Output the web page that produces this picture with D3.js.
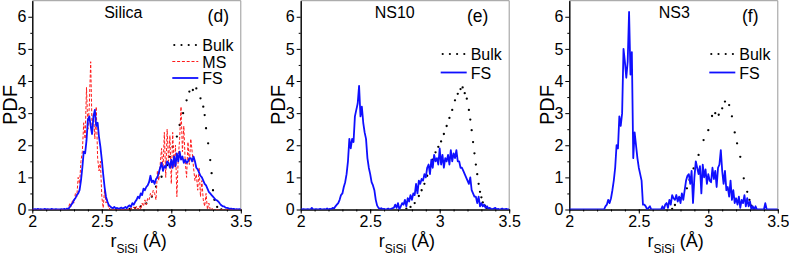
<!DOCTYPE html>
<meta charset="utf-8">
<style>
  body { margin: 0; background: #fff; }
  svg text { font-family: "Liberation Sans", Arial, sans-serif; fill: #000; }
  .frame { stroke: #999; stroke-width: 1; fill: none; }
  .axis path, .axis line { stroke: #000; stroke-width: 1; }
  .fs { fill: none; stroke: #0f0fff; stroke-width: 1.8; stroke-linejoin: round; }
  .ms { fill: none; stroke: #ff1a1a; stroke-width: 1; stroke-dasharray: 3,1.8; }
  .bulk { fill: none; stroke: #000; stroke-width: 2.2; stroke-dasharray: 0,7.2; stroke-linecap: round; }
  .dot { fill: #000; }
</style>
<body>
<script src="https://cdnjs.cloudflare.com/ajax/libs/d3/7.8.5/d3.min.js"></script>
<script>

// histogram bins: r = 2.00 ... 3.50, step 0.01
const rStart = 2.0, rStep = 0.01;

const silicaFS = [
  0,0,0.01,0,0.02,0,0.01,0,0,0.02,
  0,0.01,0,0,0.02,0,0,0.01,0,0,
  0,0.01,0,0.02,0,0.03,0.02,0.08,0.15,0.2,
  0.3,0.35,0.45,0.5,0.6,0.9,1.3,1.8,1.75,2.15,
  2.8,2.9,2.6,2.35,2.9,3.1,2.6,2.7,2.25,1.95,
  1.55,1.1,0.7,0.4,0.25,0.14,0.1,0.06,0.04,0.08,
  0.03,0.05,0.02,0.04,0.06,0.03,0.05,0.08,0.04,0.1,
  0.13,0.08,0.2,0.15,0.24,0.3,0.4,0.35,0.5,0.45,
  0.65,0.6,0.7,0.75,0.85,1.05,0.85,0.9,0.8,0.95,
  1.0,1.15,1.3,1.45,1.2,1.35,1.3,1.5,1.45,1.3,
  1.55,1.3,1.65,1.35,1.75,1.5,1.8,1.55,1.65,1.45,
  1.55,1.45,1.5,1.6,1.6,1.5,1.65,1.5,1.3,1.25,
  1.15,1.05,1.0,0.9,0.8,0.75,0.65,0.55,0.5,0.45,
  0.4,0.35,0.3,0.28,0.24,0.18,0.13,0.1,0.1,0.06,
  0.05,0.04,0.02,0.03,0.01,0.02,0,0.01,0,0.01,
  0
];

const silicaMS = [
  0,0,0,0,0,0,0,0,0,0,
  0,0,0,0,0,0,0,0,0,0,
  0,0,0,0,0,0,0.05,0.2,0.1,0.3,
  0.2,0.5,0.4,1.0,0.8,1.5,1.8,2.7,2.2,3.8,
  2.5,3.2,4.6,2.5,3.0,2.2,3.2,1.6,1.2,1.5,
  0.4,0.05,0.6,0.2,0.3,0,0.05,0,0,0,
  0,0,0,0,0,0,0,0,0,0,
  0,0.05,0,0.08,0,0.1,0,0.1,0,0.2,
  0.1,0.3,0.15,0.35,0.3,0.5,0.4,0.6,0.5,0.3,
  1.2,0.9,1.4,1.9,1.2,2.4,1.0,2.5,1.5,2.3,
  0.8,2.4,1.3,2.0,0.4,1.6,2.2,3.2,1.8,2.6,
  1.5,1.0,2.1,1.4,2.2,1.8,1.3,0.9,1.1,0.6,
  1.3,0.4,0.9,0.3,0.1,0.5,0,0.2,0,0.05,
  0,0,0,0,0,0,0,0,0,0,
  0,0,0,0,0,0,0,0,0,0,
  0
];

const ns10FS = [
  0,0,0.01,0,0,0.01,0,0,0.05,0,
  0,0.01,0,0,0.02,0,0,0.01,0,0.03,
  0,0.02,0.01,0.05,0.03,0.1,0.15,0.2,0.3,0.45,
  0.5,0.7,0.85,1.1,1.5,2.2,1.9,2.2,2.1,2.9,
  3.1,3.3,3.85,2.9,3.2,2.7,2.4,2.2,1.6,1.3,
  1.1,0.85,0.75,0.6,0.3,0.12,0.05,0.02,0.04,0.01,
  0.02,0,0.01,0.03,0,0.02,0.04,0.05,0.15,0.05,
  0.2,0,0.1,0.2,0.15,0.3,0.1,0.35,0.25,0.45,
  0.3,0.5,0.45,0.8,0.5,0.9,0.8,0.95,0.9,1.1,
  1.0,1.3,1.4,1.1,1.55,1.3,1.7,1.5,1.6,1.4,
  1.9,1.4,1.7,1.3,1.6,1.5,1.7,1.4,1.85,1.5,
  1.75,1.6,1.85,1.5,1.5,1.3,1.3,1.2,1.1,1.0,
  0.9,0.8,1.0,0.6,0.5,0.4,0.4,0.2,0.4,0.1,
  0.2,0.1,0.15,0.05,0.1,0.03,0.05,0.02,0.01,0.03,
  0.05,0,0.02,0,0.01,0.03,0,0.01,0.02,0,
  0
];

const ns3FS = [
  0,0,0,0,0,0,0,0,0,0,
  0,0,0,0,0,0,0,0,0,0,
  0,0,0,0,0,0,0.1,0.15,0.3,0.2,
  0.35,0.6,0.9,1.3,2.0,1.9,2.9,2.6,3.0,5.0,
  4.6,4.1,4.6,6.15,4.2,4.9,1.6,2.4,2.0,1.6,
  1.3,1.1,0.9,0.15,0.15,0.1,0,0.05,0.1,0,
  0,0,0,0,0,0,0,0.1,0,0.15,
  0.2,0.05,0.3,0.15,0.45,0.35,0.3,0.45,0.25,0.4,
  0.2,0.5,0.3,0.6,0.9,1.05,1.1,0.8,1.2,0.2,
  1.0,1.5,1.3,1.1,1.35,0.5,1.4,1.0,1.25,0.8,
  1.1,0.9,0.85,1.3,0.95,1.2,0.7,1.3,1.4,1.85,
  1.2,0.8,1.2,0.6,0.7,0.4,0.9,0.3,0.6,0.2,
  0.35,0.15,0.4,0.05,0.3,0.2,0.45,0.1,0.35,0.1,
  0.25,0,0.1,0,0.1,0,0,0,0,0,
  0,0.2,0,0,0,0,0,0,0,0,
  0
];

// bulk curves (drawn as dots)
const silicaBulkR = [2.70,2.74,2.78,2.82,2.86,2.89,2.93,2.97,2.99,3.01,3.04,3.06,3.085,3.11,3.13,3.155,3.18,3.21,3.23,3.24,3.25,3.265,3.28,3.29,3.30,3.31,3.33,3.36];
const silicaBulk  = [0.02,0.05,0.1,0.19,0.4,0.71,1.02,1.38,1.64,1.95,2.27,2.63,3.0,3.4,3.67,3.72,3.77,3.46,3.2,2.94,2.53,2.06,1.54,1.13,0.6,0.3,0.08,0];

const ns10BulkR = [2.76,2.79,2.82,2.85,2.87,2.89,2.91,2.93,2.95,2.97,2.99,3.01,3.03,3.05,3.07,3.09,3.11,3.13,3.15,3.165,3.18,3.195,3.21,3.22,3.23,3.24,3.25,3.26,3.27,3.28,3.29,3.30,3.31,3.325,3.34];
const ns10Bulk  = [0.03,0.08,0.2,0.42,0.6,0.8,1.05,1.33,1.55,1.78,1.95,2.12,2.35,2.6,2.85,3.1,3.4,3.6,3.75,3.8,3.62,3.45,3.1,2.8,2.47,2.1,1.75,1.4,1.1,0.8,0.55,0.38,0.22,0.12,0.05];

const ns3BulkR = [2.74,2.76,2.80,2.846,2.865,2.894,2.93,2.966,3.0,3.027,3.05,3.075,3.10,3.12,3.15,3.17,3.19,3.207,3.23,3.255,3.28,3.296,3.31,3.33];
const ns3Bulk  = [0.02,0.14,0.35,0.66,0.92,1.28,1.70,2.16,2.47,2.91,3.0,2.95,3.15,3.36,3.25,2.9,2.4,2.06,1.64,0.97,0.55,0.3,0.12,0.02];

const xTicks = [2, 2.5, 3, 3.5];
const yTicks = [0, 1, 2, 3, 4, 5, 6];

const panels = [
  { left: 32.3, title: "Silica", tag: "(d)", titleX: 91, tagX: 186, legY: [45, 61.5, 78],
    fs: silicaFS, ms: silicaMS, bulkR: silicaBulkR, bulk: silicaBulk },
  { left: 300.7, title: "NS10", tag: "(e)", titleX: 94, tagX: 177, legY: [54, 72.5],
    fs: ns10FS, bulkR: ns10BulkR, bulk: ns10Bulk },
  { left: 569.3, title: "NS3", tag: "(f)", titleX: 105, tagX: 181, legY: [54, 72.5],
    fs: ns3FS, bulkR: ns3BulkR, bulk: ns3Bulk }
];

const W = 789, H = 258, pw = 208.5, yTop = 0.7, yBot = 209.5;

const svg = d3.select("body").append("svg")
  .attr("width", W).attr("height", H);

panels.forEach(function(p, i) {
  const x = d3.scaleLinear().domain([2, 3.5]).range([0, pw]);
  const y = d3.scaleLinear().domain([0, 6.5]).range([yBot, yTop]);
  const g = svg.append("g").attr("transform", "translate(" + p.left + ",0)");

  g.append("clipPath").attr("id", "clip" + i)
    .append("rect").attr("x", 0).attr("y", yTop).attr("width", pw).attr("height", yBot - yTop);

  // gray top/right frame
  g.append("path").attr("class", "frame")
    .attr("d", "M0," + yTop + "H" + pw + "V" + yBot);

  // minor ticks
  g.append("g").attr("class", "axis")
    .attr("transform", "translate(0," + yBot + ")")
    .call(d3.axisBottom(x).tickValues(d3.range(2, 3.501, 0.1)).tickSize(2).tickSizeOuter(0).tickFormat(""));
  g.append("g").attr("class", "axis")
    .call(d3.axisLeft(y).tickValues(d3.range(0.5, 6.5, 1)).tickSize(2).tickSizeOuter(0).tickFormat(""));

  const xa = g.append("g").attr("class", "axis")
    .attr("transform", "translate(0," + yBot + ")")
    .call(d3.axisBottom(x).tickValues(xTicks).tickSize(4).tickSizeOuter(0).tickPadding(2).tickFormat(d3.format("")));
  xa.selectAll("text").attr("font-size", 16);

  const ya = g.append("g").attr("class", "axis")
    .call(d3.axisLeft(y).tickValues(yTicks).tickSize(4).tickSizeOuter(0).tickPadding(2).tickFormat(d3.format("d")));
  ya.selectAll("text").attr("font-size", 16);
  svg.selectAll(".axis .domain").attr("stroke", "#000");

  // curves
  const plot = g.append("g").attr("clip-path", "url(#clip" + i + ")");
  const line = d3.line().x(d => x(d[0])).y(d => y(d[1]));
  const binned = arr => arr.map((v, k) => [rStart + k * rStep, v]);

  plot.selectAll("circle.dot").data(p.bulkR.map((r, k) => [r, p.bulk[k]]))
    .enter().append("circle").attr("class", "dot")
    .attr("cx", d => x(d[0])).attr("cy", d => y(d[1])).attr("r", 1.15);
  if (p.ms) plot.append("path").attr("class", "ms").attr("d", line(binned(p.ms)));
  plot.append("path").attr("class", "fs").attr("d", line(binned(p.fs)));

  // titles
  g.append("text").attr("x", p.titleX).attr("y", 17.5).attr("text-anchor", "middle")
    .attr("font-size", 16).text(p.title);
  g.append("text").attr("x", p.tagX).attr("y", 22).attr("text-anchor", "middle")
    .attr("font-size", 17.5).text(p.tag);

  // legend
  const items = [{ cls: "bulk", label: "Bulk" }];
  if (p.ms) items.push({ cls: "ms", label: "MS" });
  items.push({ cls: "fs", label: "FS" });
  items.forEach(function(it, k) {
    const ly = p.legY[k];
    g.append("line").attr("class", it.cls)
      .attr("x1", it.cls === "bulk" ? 142 : 140).attr("x2", 166).attr("y1", ly).attr("y2", ly);
    g.append("text").attr("x", 170).attr("y", ly + 6).attr("font-size", 16).text(it.label);
  });

  // axis labels
  g.append("text")
    .attr("transform", "translate(-15.5," + ((yTop + yBot) / 2) + ") rotate(-90)")
    .attr("text-anchor", "middle").attr("font-size", 20).text("PDF");

  const xl = g.append("text").attr("x", pw / 2 + 2).attr("y", 247)
    .attr("text-anchor", "middle").attr("font-size", 18);
  xl.append("tspan").text("r");
  xl.append("tspan").attr("font-size", 12).attr("dy", 6).text("SiSi");
  xl.append("tspan").attr("dy", -6).text(" (Å)");
});

</script>
</body>
